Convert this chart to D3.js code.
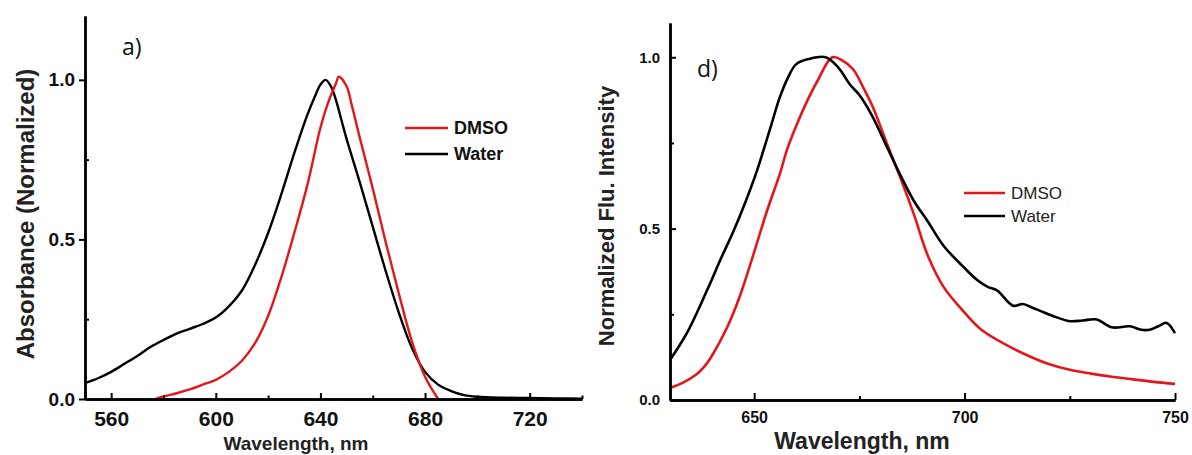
<!DOCTYPE html>
<html><head><meta charset="utf-8">
<script src="https://cdn.jsdelivr.net/npm/d3@7"></script>
<style>
body{margin:0;background:#fff;}
svg{display:block;}
</style></head>
<body>
<svg id="chart" width="1192" height="455"></svg>
<script>
// ---------- Data ----------
// Panel a) absorbance
const absWaterWl  = [550,555,560,565,570,575,580,585,590,595,600,605,610,615,620,625,630,635,638,640,642,644,646,648,650,655,660,665,670,675,680,685,690,695,700,710,720,730,740];
const absWaterVal = [0.05,0.065,0.085,0.11,0.135,0.163,0.185,0.205,0.22,0.235,0.255,0.29,0.34,0.42,0.52,0.64,0.77,0.89,0.95,0.985,1.0,0.98,0.935,0.875,0.815,0.68,0.54,0.40,0.27,0.16,0.085,0.045,0.025,0.012,0.007,0.004,0.003,0.002,0.001];
const absDmsoWl   = [577,580,585,590,595,600,605,610,615,620,625,630,635,640,643,646,647,650,652,655,660,665,670,675,680,685];
const absDmsoVal  = [0.0,0.008,0.018,0.03,0.045,0.06,0.085,0.12,0.175,0.26,0.38,0.52,0.67,0.85,0.93,0.99,1.01,0.98,0.92,0.82,0.66,0.49,0.33,0.18,0.07,0.0];
// Panel d) fluorescence
const flWaterWl  = [630,634,638.8,642,645,648,650.7,652,654,656,658,660,663,667,670,672.8,675,678,681.5,685,688,691.3,695,699.6,703,705.5,707.7,711.5,713.8,716,718,721,725,728,731.4,735,739.3,742,744,746,748,750];
const flWaterVal = [0.117,0.195,0.32,0.41,0.49,0.58,0.67,0.72,0.80,0.88,0.94,0.98,0.995,1.0,0.97,0.92,0.89,0.83,0.74,0.65,0.58,0.52,0.45,0.39,0.35,0.33,0.32,0.275,0.28,0.27,0.26,0.245,0.23,0.232,0.235,0.212,0.215,0.205,0.205,0.215,0.225,0.195];
const flDmsoWl   = [630,633,636,638,640,643.5,646.5,649.7,653,656.1,657.8,660,662.5,665,668.6,671,673.5,676,678.2,681.5,685,688,691.3,695,700,704,710,715,720,725,730,735,741.6,745,750];
const flDmsoVal  = [0.035,0.05,0.072,0.095,0.13,0.21,0.30,0.42,0.55,0.66,0.73,0.8,0.87,0.93,1.0,0.99,0.965,0.91,0.855,0.75,0.64,0.54,0.42,0.33,0.255,0.205,0.16,0.13,0.105,0.088,0.077,0.068,0.058,0.053,0.047];
// Ticks
const aXMajor = [560,600,640,680,720];
const aXMinor = [580,620,660,700,740];
const aYMajor = [0,0.5,1.0];
const aYMinor = [0.25,0.75];
const dXMajor = [650,700,750];
const dXMinor = [675,725];
const dYMajor = [0,0.5,1.0];
const dYMinor = [0.25,0.75];
const seriesNames = ["DMSO","Water"];
const seriesColors = ["#e3161c","#000000"];

// ---------- Drawing ----------
const svg = d3.select("#chart");
const fmt = d3.format(".1f");
const FONT = "'Liberation Sans', Arial, sans-serif";

function zip(w, v){ return w.map((x,i)=>({x:x, y:v[i]})); }

function styleAxis(g){
  g.selectAll("path.domain").attr("stroke","#000").attr("stroke-width",2.5);
  g.selectAll(".tick line").attr("stroke","#000").attr("stroke-width",2);
}

// Panel a
{
  const x = d3.scaleLinear().domain([550,740]).range([85,582]);
  const y = d3.scaleLinear().domain([0,1.2]).range([399,16]);
  const line = d3.line().x(d=>x(d.x)).y(d=>y(d.y)).curve(d3.curveCatmullRom.alpha(0.5));

  svg.append("path").datum(zip(absWaterWl,absWaterVal)).attr("d",line)
    .attr("fill","none").attr("stroke",seriesColors[1]).attr("stroke-width",2.4);
  svg.append("path").datum(zip(absDmsoWl,absDmsoVal)).attr("d",line)
    .attr("fill","none").attr("stroke",seriesColors[0]).attr("stroke-width",2.4);

  const gxm = svg.append("g").attr("transform",`translate(0,${y(0)})`)
    .call(d3.axisBottom(x).tickValues(aXMinor).tickSize(-3.5).tickFormat("").tickSizeOuter(0));
  styleAxis(gxm);
  const gx = svg.append("g").attr("transform",`translate(0,${y(0)})`)
    .call(d3.axisBottom(x).tickValues(aXMajor).tickSize(-6).tickPadding(12).tickSizeOuter(0));
  styleAxis(gx);
  gx.selectAll("text").attr("font-family",FONT)
    .attr("font-weight","bold").attr("font-size",21).attr("fill","#111");

  const gym = svg.append("g").attr("transform",`translate(${x(550)},0)`)
    .call(d3.axisLeft(y).tickValues(aYMinor).tickSize(-4).tickFormat("").tickSizeOuter(0));
  styleAxis(gym);
  const gy = svg.append("g").attr("transform",`translate(${x(550)},0)`)
    .call(d3.axisLeft(y).tickValues(aYMajor).tickSize(6).tickPadding(4).tickFormat(fmt).tickSizeOuter(0));
  styleAxis(gy);
  gy.selectAll("text").attr("font-family",FONT)
    .attr("font-weight","bold").attr("font-size",19).attr("fill","#111");

  svg.append("text").attr("x",296).attr("y",450).attr("text-anchor","middle")
    .attr("font-family",FONT).attr("font-weight","bold")
    .attr("font-size",19).attr("fill","#222").text("Wavelength, nm");
  svg.append("text").attr("transform","translate(34,214) rotate(-90)").attr("text-anchor","middle")
    .attr("font-family",FONT).attr("font-weight","bold")
    .attr("font-size",24).attr("fill","#222").text("Absorbance (Normalized)");
  svg.append("text").attr("x",122).attr("y",55)
    .attr("font-family","'Open Sans', sans-serif")
    .attr("font-size",23).attr("fill","#111").text("a)");

  // legend
  const ly = [128,154];
  seriesNames.forEach((n,i)=>{
    svg.append("line").attr("x1",405).attr("x2",448).attr("y1",ly[i]).attr("y2",ly[i])
      .attr("stroke",seriesColors[i]).attr("stroke-width",2.6);
    svg.append("text").attr("x",454).attr("y",ly[i]+6)
      .attr("font-family",FONT).attr("font-weight","bold")
      .attr("font-size",18).attr("fill","#111").text(n);
  });
}

// Panel d
{
  const x = d3.scaleLinear().domain([630,750]).range([670,1175]);
  const y = d3.scaleLinear().domain([0,1.1]).range([400,23]);
  const line = d3.line().x(d=>x(d.x)).y(d=>y(d.y)).curve(d3.curveCatmullRom.alpha(0.5));

  svg.append("path").datum(zip(flDmsoWl,flDmsoVal)).attr("d",line)
    .attr("fill","none").attr("stroke",seriesColors[0]).attr("stroke-width",2.6);
  svg.append("path").datum(zip(flWaterWl,flWaterVal)).attr("d",line)
    .attr("fill","none").attr("stroke",seriesColors[1]).attr("stroke-width",2.6);

  const gxm = svg.append("g").attr("transform",`translate(0,${y(0)})`)
    .call(d3.axisBottom(x).tickValues(dXMinor).tickSize(-4).tickFormat("").tickSizeOuter(0));
  styleAxis(gxm);
  const gx = svg.append("g").attr("transform",`translate(0,${y(0)})`)
    .call(d3.axisBottom(x).tickValues(dXMajor).tickSize(-7).tickPadding(12).tickSizeOuter(0));
  styleAxis(gx);
  gx.selectAll("text").attr("font-family",FONT)
    .attr("font-weight","bold").attr("font-size",16).attr("fill","#111");

  const gym = svg.append("g").attr("transform",`translate(${x(630)},0)`)
    .call(d3.axisLeft(y).tickValues(dYMinor).tickSize(-4).tickFormat("").tickSizeOuter(0));
  styleAxis(gym);
  const gy = svg.append("g").attr("transform",`translate(${x(630)},0)`)
    .call(d3.axisLeft(y).tickValues(dYMajor).tickSize(-6).tickPadding(10).tickFormat(fmt).tickSizeOuter(0));
  styleAxis(gy);
  gy.selectAll("text").attr("font-family",FONT)
    .attr("font-weight","bold").attr("font-size",15).attr("fill","#111");

  svg.append("text").attr("x",862).attr("y",449).attr("text-anchor","middle")
    .attr("font-family",FONT).attr("font-weight","bold")
    .attr("font-size",23).attr("fill","#222").text("Wavelength, nm");
  svg.append("text").attr("transform","translate(614,216) rotate(-90)").attr("text-anchor","middle")
    .attr("font-family",FONT).attr("font-weight","bold")
    .attr("font-size",22).attr("fill","#222").text("Normalized Flu. Intensity");
  svg.append("text").attr("x",697).attr("y",77)
    .attr("font-family","'Open Sans', sans-serif")
    .attr("font-size",23).attr("fill","#111").text("d)");

  const ly = [193,216];
  seriesNames.forEach((n,i)=>{
    svg.append("line").attr("x1",964).attr("x2",1005).attr("y1",ly[i]).attr("y2",ly[i])
      .attr("stroke",seriesColors[i]).attr("stroke-width",2.6);
    svg.append("text").attr("x",1011).attr("y",ly[i]+6)
      .attr("font-family",FONT)
      .attr("font-size",17).attr("fill","#222").text(n);
  });
}
</script>
</body></html>
